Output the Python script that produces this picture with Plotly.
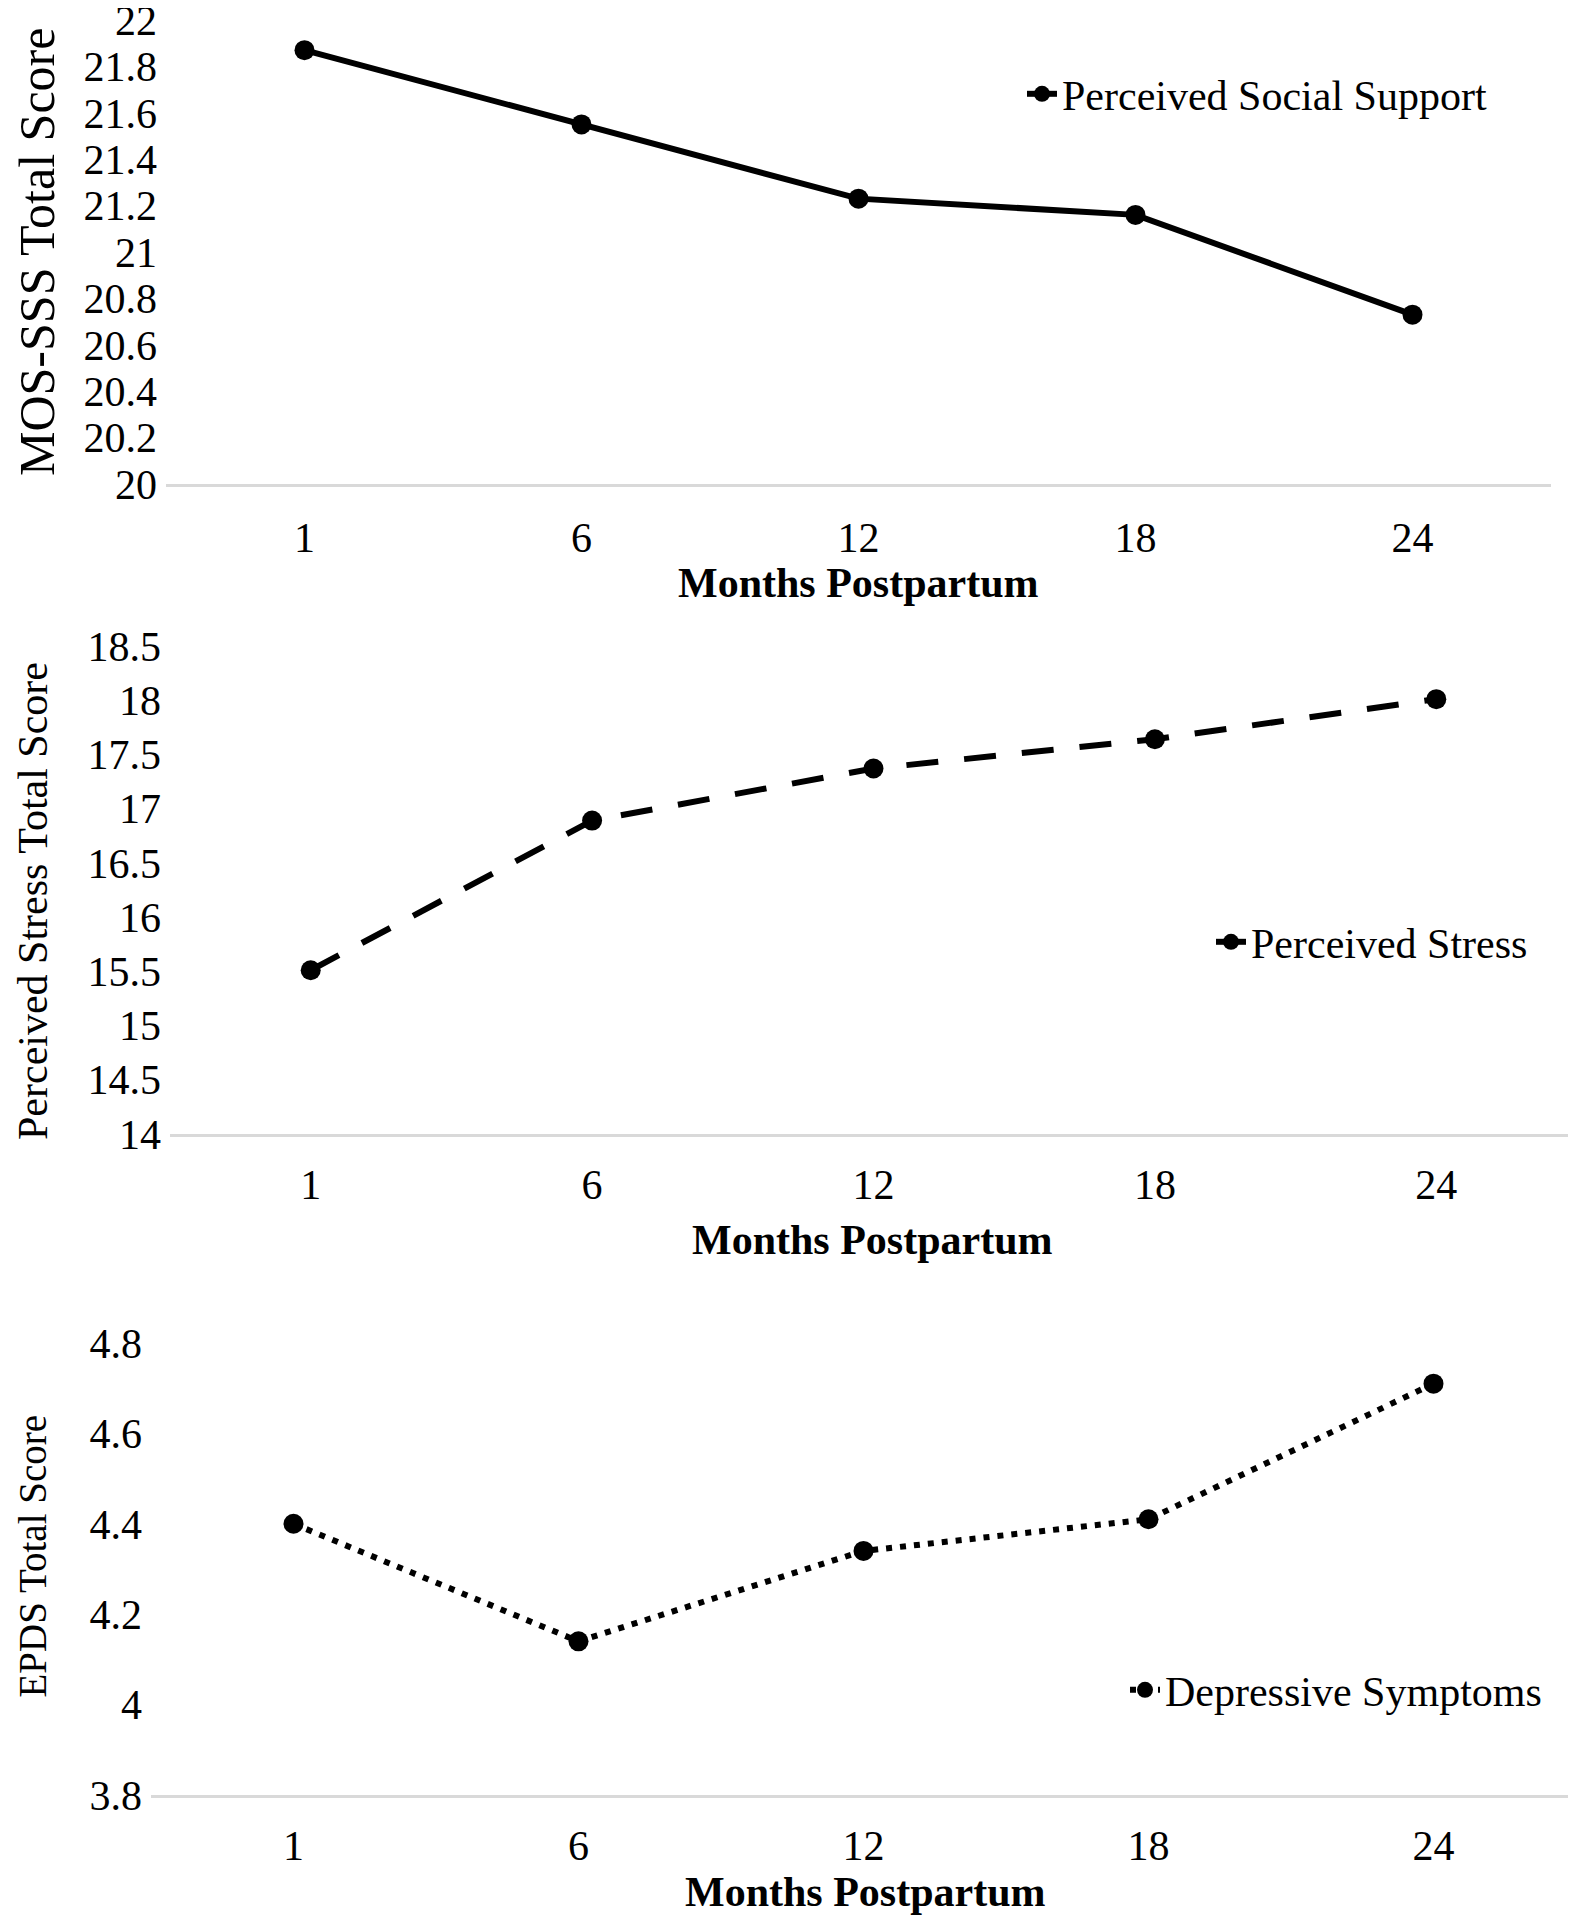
import plotly.graph_objects as go

months = ["1", "6", "12", "18", "24"]
social_support = [21.87, 21.55, 21.23, 21.16, 20.73]
perceived_stress = [15.51, 16.89, 17.37, 17.64, 18.01]
depressive = [4.40, 4.14, 4.34, 4.41, 4.71]

ss_ticks = [20, 20.2, 20.4, 20.6, 20.8, 21, 21.2, 21.4, 21.6, 21.8, 22]
ps_ticks = [14, 14.5, 15, 15.5, 16, 16.5, 17, 17.5, 18, 18.5]
ep_ticks = [3.8, 4, 4.2, 4.4, 4.6, 4.8]

FONT = "Liberation Serif, Times New Roman, serif"
FS = 42
W, H = 1576, 1920

fig = go.Figure()

fig.add_trace(go.Scatter(x=months, y=social_support, mode="lines+markers",
                         name="Perceived Social Support",
                         line=dict(color="black", width=6),
                         marker=dict(color="black", size=20),
                         xaxis="x", yaxis="y", legend="legend", cliponaxis=False))
fig.add_trace(go.Scatter(x=months, y=perceived_stress, mode="lines+markers",
                         name="Perceived Stress",
                         line=dict(color="black", width=6, dash="32px,26px"),
                         marker=dict(color="black", size=20),
                         xaxis="x2", yaxis="y2", legend="legend2", cliponaxis=False))
fig.add_trace(go.Scatter(x=months, y=depressive, mode="lines+markers",
                         name="Depressive Symptoms",
                         line=dict(color="black", width=6, dash="6px,8px"),
                         marker=dict(color="black", size=20),
                         xaxis="x3", yaxis="y3", legend="legend3", cliponaxis=False))

def px_x(v):
    return v / W

def px_y(v):
    return 1 - v / H

def xaxis_cfg(domain, anchor, standoff):
    return dict(domain=domain, anchor=anchor, type="category",
                categoryorder="array", categoryarray=months,
                range=[-0.5, 4.5], showline=True, linecolor="#d9d9d9", linewidth=3,
                showgrid=False, zeroline=False, ticks="", ticklabelstandoff=standoff,
                automargin=False, ticklabeloverflow="allow",
                tickfont=dict(family=FONT, size=FS, color="black"))

def yaxis_cfg(domain, anchor, rng, ticks):
    return dict(domain=domain, anchor=anchor, range=rng, tickvals=ticks,
                ticktext=[f"{t:g}" for t in ticks],
                showline=False, showgrid=False, zeroline=False, ticks="",
                ticklabelstandoff=8, automargin=False, ticklabeloverflow="allow",
                tickfont=dict(family=FONT, size=FS, color="black"))

legend_common = dict(xanchor="left", yanchor="middle", bgcolor="rgba(0,0,0,0)",
                     font=dict(family=FONT, size=FS, color="black"))

fig.update_layout(
    width=W, height=H,
    margin=dict(l=0, r=0, t=0, b=0, autoexpand=False),
    paper_bgcolor="white", plot_bgcolor="white",
    font=dict(family=FONT, size=FS, color="black"),
    xaxis=xaxis_cfg([px_x(158), px_x(1543)], "y", 15),
    yaxis=yaxis_cfg([px_y(476), px_y(12)], "x", [20, 22], ss_ticks),
    xaxis2=xaxis_cfg([px_x(162), px_x(1569)], "y2", 12),
    yaxis2=yaxis_cfg([px_y(1126), px_y(638)], "x2", [14, 18.5], ps_ticks),
    xaxis3=xaxis_cfg([px_x(143), px_x(1568)], "y3", 12),
    yaxis3=yaxis_cfg([px_y(1787), px_y(1335)], "x3", [3.8, 4.8], ep_ticks),
    legend=dict(x=px_x(1014), y=px_y(86), **legend_common),
    legend2=dict(x=px_x(1203), y=px_y(934), **legend_common),
    legend3=dict(x=px_x(1117), y=px_y(1682), **legend_common),
    showlegend=True,
)

annos = [
    dict(text="<b>Months Postpartum</b>", x=px_x(850), y=px_y(575), size=FS, xanchor="center"),
    dict(text="<b>Months Postpartum</b>", x=px_x(864), y=px_y(1232), size=FS, xanchor="center"),
    dict(text="<b>Months Postpartum</b>", x=px_x(857), y=px_y(1884), size=FS, xanchor="center"),
    dict(text="MOS-SSS Total Score", x=0, y=px_y(244), textangle=-90, size=50, xanchor="left"),
    dict(text="Perceived Stress Total Score", x=px_x(1), y=px_y(893), textangle=-90, size=42, xanchor="left"),
    dict(text="EPDS Total Score", x=px_x(1), y=px_y(1548), textangle=-90, size=39, xanchor="left"),
]
for a in annos:
    size = a.pop("size")
    fig.add_annotation(xref="paper", yref="paper", showarrow=False,
                       yanchor="middle", borderpad=0,
                       font=dict(family=FONT, size=size, color="black"), **a)

fig.write_html("out.html")
